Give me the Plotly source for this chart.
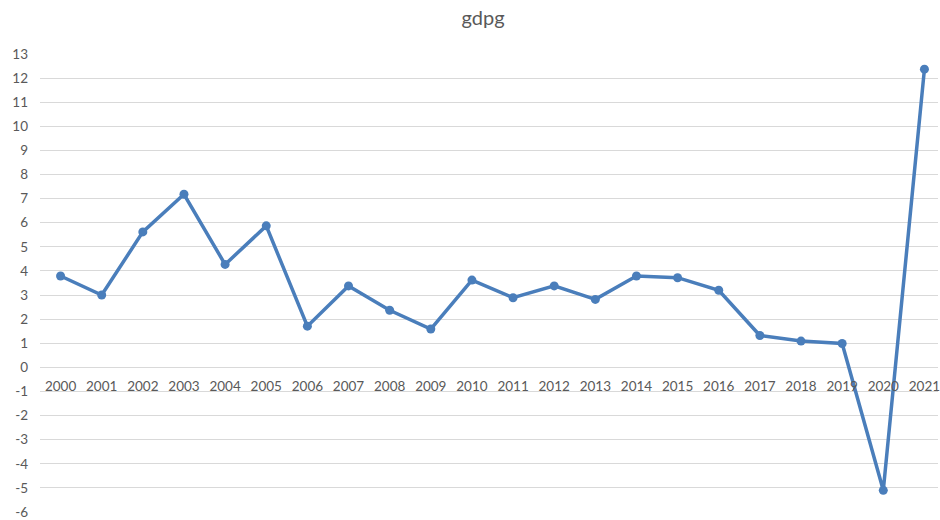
import plotly.graph_objects as go

# Annual GDP growth (%)
years = [str(y) for y in range(2000, 2022)]
gdpg = [3.79, 3.0, 5.62, 7.18, 4.27, 5.87, 1.71, 3.38, 2.37, 1.59, 3.62,
        2.89, 3.38, 2.82, 3.79, 3.72, 3.20, 1.32, 1.09, 0.99, -5.10, 12.37]
y_ticks = list(range(-6, 14))

y_min, y_max = -6, 13
line_color = "#4A7EBB"
grid_color = "#D9D9D9"
text_color = "#595959"
font_family = "Lato, 'Open Sans', sans-serif"

fig = go.Figure()
fig.add_trace(go.Scatter(
    x=years, y=gdpg, mode="lines+markers",
    line=dict(color=line_color, width=3.5),
    marker=dict(color=line_color, size=9),
    showlegend=False,
))

fig.update_layout(
    width=940, height=520,
    margin=dict(l=40, r=0, t=54, b=8),
    paper_bgcolor="white", plot_bgcolor="white",
    title=dict(text="gdpg", x=0.514, xanchor="center", y=0.965, yanchor="middle",
               font=dict(family=font_family, size=20, color=text_color)),
    font=dict(family=font_family, color=text_color),
    xaxis=dict(
        type="category", range=[-0.5, 21.33],
        anchor="free", position=(0 - y_min) / (y_max - y_min),
        showgrid=False, showline=False, zeroline=False,
        ticks="", ticklabelstandoff=9,
        tickfont=dict(size=13.5, color=text_color),
    ),
    yaxis=dict(
        range=[y_min, y_max], tickvals=y_ticks, ticktext=[str(v) for v in y_ticks],
        showgrid=True, gridcolor=grid_color, gridwidth=1,
        zeroline=False, showline=False, ticks="",
        ticklabelstandoff=11,
        tickfont=dict(size=13.5, color=text_color),
    ),
)

fig.write_html("out.html")
